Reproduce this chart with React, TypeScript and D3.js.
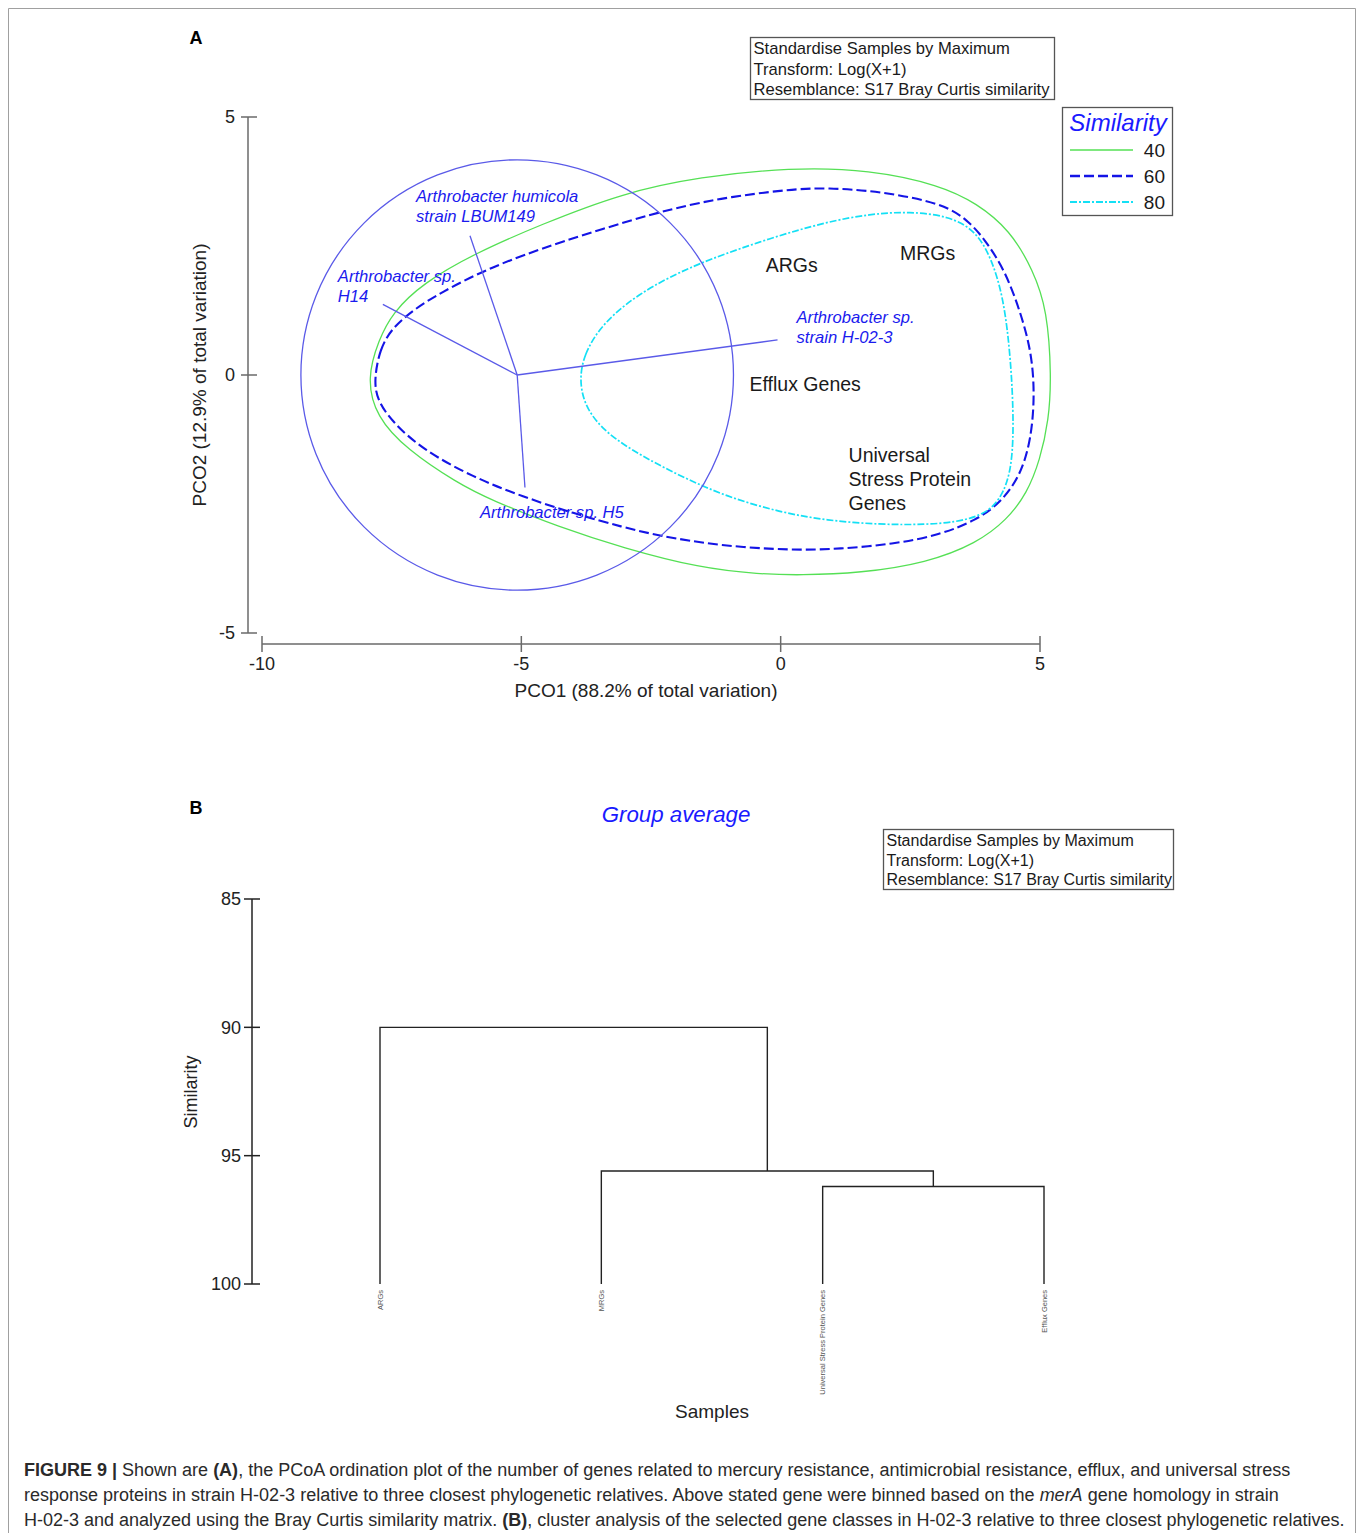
import React, { useRef, useEffect } from "react";
import * as d3 from "d3";

// ---- Panel A: PCO ordination ----
const pco1Ticks = [-10, -5, 0, 5];
const pco2Ticks = [-5, 0, 5];

const sampleLabels = [["ARGs"], ["MRGs"], ["Efflux Genes"], ["Universal", "Stress Protein", "Genes"]];
const samplePCO1 = [-0.29, 2.3, -0.6, 1.31];
const samplePCO2 = [2.12, 2.37, -0.17, -2.01];

const vectorNames = [
  ["Arthrobacter humicola", "strain LBUM149"],
  ["Arthrobacter sp.", "H14"],
  ["Arthrobacter sp.", "strain H-02-3"],
  ["Arthrobacter sp. H5"],
];
const vectorPCO1 = [-0.91, -2.59, 5.02, 0.15];
const vectorPCO2 = [2.7, 1.37, 0.68, -2.18];
const circleCentre = [-5.08, 0];
const circleRadius = 4.17;

const similarityLevels = [40, 60, 80];

// cluster contours at 40 / 60 / 80 % similarity, [PCO1, PCO2]
const contour40 = [
  [-7.98, -0.06], [-7.75, 0.68], [-7.49, 1.2], [-6.9, 1.78], [-5.89, 2.36], [-4.64, 2.91],
  [-3.04, 3.53], [-1.56, 3.84], [0.18, 4.02], [1.72, 3.98], [3.07, 3.68], [3.78, 3.33],
  [4.42, 2.81], [4.87, 2.03], [5.14, 1.26], [5.22, -0.04], [5.17, -0.87], [5.0, -1.65],
  [4.75, -2.29], [4.36, -2.81], [3.78, -3.26], [2.82, -3.64], [1.53, -3.84], [0.37, -3.88],
  [-0.4, -3.86], [-1.56, -3.74], [-3.04, -3.35], [-4.26, -2.95], [-5.6, -2.42], [-6.24, -2.09],
  [-7.2, -1.45], [-7.8, -0.81],
];
const contour60 = [
  [-7.84, -0.1], [-7.73, 0.5], [-7.5, 0.9], [-7.1, 1.25], [-6.57, 1.59], [-5.6, 2.09],
  [-4.31, 2.56], [-2.38, 3.16], [-1.17, 3.43], [0.18, 3.6], [0.89, 3.63], [1.91, 3.56],
  [3.13, 3.33], [3.65, 2.97], [3.98, 2.56], [4.32, 2.03], [4.61, 1.26], [4.83, 0.48],
  [4.9, -0.35], [4.83, -1.26], [4.61, -1.98], [4.23, -2.48], [3.78, -2.81], [3.07, -3.1],
  [2.16, -3.28], [1.14, -3.37], [0.23, -3.4], [-1.17, -3.31], [-2.33, -3.12], [-3.04, -2.95],
  [-4.0, -2.68], [-4.97, -2.36], [-5.93, -1.98], [-6.9, -1.45], [-7.5, -0.9], [-7.78, -0.48],
];
const contour80 = [
  [-3.88, -0.04], [-3.78, 0.4], [-3.55, 0.82], [-3.2, 1.2], [-2.75, 1.55], [-2.15, 1.9],
  [-1.36, 2.25], [-0.21, 2.65], [0.89, 2.97], [1.72, 3.12], [2.49, 3.17], [3.25, 3.08],
  [3.75, 2.8], [4.05, 2.3], [4.3, 1.5], [4.44, 0.29], [4.5, -1.01], [4.44, -1.98],
  [4.15, -2.55], [3.78, -2.75], [3.36, -2.85], [2.82, -2.9], [1.91, -2.9], [0.89, -2.82],
  [-0.01, -2.66], [-1.04, -2.36], [-1.94, -1.96], [-2.9, -1.45], [-3.48, -1.02], [-3.8, -0.55],
];

// ---- Panel B: group-average cluster ----
const similarityTicks = [85, 90, 95, 100];
const leafNames = ["ARGs", "MRGs", "Universal Stress Protein Genes", "Efflux Genes"];
const mergeSimilarity = [96.2, 95.6, 90.0];
// each merge joins a leaf (index >= 0) or an earlier merge (-(k + 1))
const mergeLeft = [2, 1, 0];
const mergeRight = [3, -1, -2];

const infoLines = [
  "Standardise Samples by Maximum",
  "Transform: Log(X+1)",
  "Resemblance: S17 Bray Curtis similarity",
];

const FONT = "'Liberation Sans', Arial, Helvetica, sans-serif";

const App = () => {
  const chartRef = useRef(null);

  useEffect(() => {
    const svg = d3.select(chartRef.current);
    svg.selectAll("*").remove();

    // figure frame
    svg.append("path")
      .attr("d", "M8.5,1540 V8.5 H1355.5 V1540")
      .attr("fill", "none")
      .attr("stroke", "#a0a0a0");

    // ================= Panel A =================
    const x = d3.scaleLinear().domain([-10, 5]).range([262, 1040]);
    const y = d3.scaleLinear().domain([-5, 5]).range([633, 117]);
    const axisCol = "#6a6a6a";

    svg.append("text").attr("x", 196).attr("y", 44).attr("text-anchor", "middle")
      .attr("font-family", FONT).attr("font-weight", "bold").attr("font-size", 18).text("A");

    // y axis
    const gy = svg.append("g");
    gy.append("line").attr("x1", 248).attr("x2", 248).attr("y1", y(5)).attr("y2", y(-5))
      .attr("stroke", axisCol).attr("stroke-width", 1.5);
    pco2Ticks.forEach((t) => {
      gy.append("line").attr("x1", 241).attr("x2", 257).attr("y1", y(t)).attr("y2", y(t))
        .attr("stroke", axisCol).attr("stroke-width", 1.5);
      gy.append("text").attr("x", 235).attr("y", y(t)).attr("dy", "0.35em")
        .attr("text-anchor", "end").attr("font-family", FONT).attr("font-size", 18)
        .attr("fill", "#222").text(t);
    });
    svg.append("text")
      .attr("transform", `translate(206,${y(0)}) rotate(-90)`)
      .attr("text-anchor", "middle").attr("font-family", FONT).attr("font-size", 19)
      .attr("fill", "#222").text("PCO2 (12.9% of total variation)");

    // x axis
    const gx = svg.append("g");
    gx.append("line").attr("x1", x(-10)).attr("x2", x(5)).attr("y1", 644).attr("y2", 644)
      .attr("stroke", axisCol).attr("stroke-width", 1.5);
    pco1Ticks.forEach((t) => {
      gx.append("line").attr("x1", x(t)).attr("x2", x(t)).attr("y1", 636).attr("y2", 652)
        .attr("stroke", axisCol).attr("stroke-width", 1.5);
      gx.append("text").attr("x", x(t)).attr("y", 664).attr("dy", "0.35em")
        .attr("text-anchor", "middle").attr("font-family", FONT).attr("font-size", 18)
        .attr("fill", "#222").text(t);
    });
    svg.append("text").attr("x", 646).attr("y", 697).attr("text-anchor", "middle")
      .attr("font-family", FONT).attr("font-size", 19).attr("fill", "#222")
      .text("PCO1 (88.2% of total variation)");

    // contours
    const contourStyle = {
      40: { color: "#55e055", width: 1.3, dash: null },
      60: { color: "#1414e6", width: 2.1, dash: "10,4" },
      80: { color: "#14e0f5", width: 1.7, dash: "7,2,2,2" },
    };
    const contours = { 40: contour40, 60: contour60, 80: contour80 };
    const line = d3.line()
      .x((d) => x(d[0]))
      .y((d) => y(d[1]))
      .curve(d3.curveBasisClosed);
    similarityLevels.forEach((lvl) => {
      const s = contourStyle[lvl];
      svg.append("path").attr("d", line(contours[lvl])).attr("fill", "none")
        .attr("stroke", s.color).attr("stroke-width", s.width)
        .attr("stroke-dasharray", s.dash);
    });

    // vector overlay circle + vectors
    const vecCol = "#5a5ae8";
    const cx = x(circleCentre[0]);
    const cy = y(circleCentre[1]);
    svg.append("ellipse").attr("cx", cx).attr("cy", cy)
      .attr("rx", x(circleCentre[0] + circleRadius) - cx)
      .attr("ry", cy - y(circleCentre[1] + circleRadius))
      .attr("fill", "none").attr("stroke", vecCol).attr("stroke-width", 1.3);

    const labelOffsets = [[-54, -39], [-45, -28], [19, -23], [-45, 25]];
    vectorNames.forEach((name, i) => {
      const ex = x(circleCentre[0] + vectorPCO1[i]);
      const ey = y(circleCentre[1] + vectorPCO2[i]);
      svg.append("line").attr("x1", cx).attr("y1", cy).attr("x2", ex).attr("y2", ey)
        .attr("stroke", vecCol).attr("stroke-width", 1.3);
      const t = svg.append("text").attr("font-family", FONT).attr("font-style", "italic")
        .attr("font-size", 16.6).attr("fill", "#1a1aee");
      name.forEach((ln, k) => {
        t.append("tspan").attr("x", ex + labelOffsets[i][0])
          .attr("y", ey + labelOffsets[i][1] + k * 20).attr("dy", "0.35em").text(ln);
      });
    });

    // sample labels
    sampleLabels.forEach((lines, i) => {
      const t = svg.append("text").attr("font-family", FONT).attr("font-size", 19.5)
        .attr("fill", "#1a1a1a");
      lines.forEach((ln, k) => {
        t.append("tspan").attr("x", x(samplePCO1[i]))
          .attr("y", y(samplePCO2[i]) + (k - (lines.length - 1) / 2) * 24)
          .attr("dy", "0.35em").text(ln);
      });
    });

    // info box
    const infoBox = (bx, by, bw, bh, fs, lh) => {
      svg.append("rect").attr("x", bx).attr("y", by).attr("width", bw).attr("height", bh)
        .attr("fill", "#fff").attr("stroke", "#555").attr("stroke-width", 1.3);
      infoLines.forEach((ln, k) => {
        svg.append("text").attr("x", bx + 3).attr("y", by + 11 + k * lh).attr("dy", "0.35em")
          .attr("font-family", FONT).attr("font-size", fs).attr("fill", "#1a1a1a").text(ln);
      });
    };
    infoBox(750.5, 37.5, 304, 62, 16.6, 20.5);

    // legend
    svg.append("rect").attr("x", 1062.5).attr("y", 107.5).attr("width", 110).attr("height", 108)
      .attr("fill", "#fff").attr("stroke", "#555").attr("stroke-width", 1.3);
    svg.append("text").attr("x", 1118).attr("y", 123).attr("dy", "0.35em")
      .attr("text-anchor", "middle").attr("font-family", FONT).attr("font-style", "italic")
      .attr("font-size", 24).attr("fill", "#1a1aff").text("Similarity");
    similarityLevels.forEach((lvl, k) => {
      const s = contourStyle[lvl];
      const ly = 150 + k * 26;
      svg.append("line").attr("x1", 1070).attr("x2", 1133).attr("y1", ly).attr("y2", ly)
        .attr("stroke", s.color).attr("stroke-width", s.width + 0.3)
        .attr("stroke-dasharray", s.dash);
      svg.append("text").attr("x", 1165).attr("y", ly).attr("dy", "0.35em")
        .attr("text-anchor", "end").attr("font-family", FONT).attr("font-size", 19)
        .attr("fill", "#1a1a1a").text(lvl);
    });

    // ================= Panel B =================
    svg.append("text").attr("x", 196).attr("y", 814).attr("text-anchor", "middle")
      .attr("font-family", FONT).attr("font-weight", "bold").attr("font-size", 18).text("B");
    svg.append("text").attr("x", 676).attr("y", 814).attr("dy", "0.35em")
      .attr("text-anchor", "middle").attr("font-family", FONT).attr("font-style", "italic")
      .attr("font-size", 22.3).attr("fill", "#1a1aff").text("Group average");
    infoBox(883.5, 829.5, 290, 60, 16, 19.5);

    const yB = d3.scaleLinear().domain([85, 100]).range([899, 1284]);
    const xB = d3.scalePoint().domain(leafNames).range([380, 1044]);

    const gb = svg.append("g");
    gb.append("line").attr("x1", 252).attr("x2", 252).attr("y1", yB(85)).attr("y2", yB(100))
      .attr("stroke", "#222").attr("stroke-width", 1.5);
    similarityTicks.forEach((t) => {
      gb.append("line").attr("x1", 244).attr("x2", 260).attr("y1", yB(t)).attr("y2", yB(t))
        .attr("stroke", "#222").attr("stroke-width", 1.5);
      gb.append("text").attr("x", 241).attr("y", yB(t)).attr("dy", "0.35em")
        .attr("text-anchor", "end").attr("font-family", FONT).attr("font-size", 18)
        .attr("fill", "#222").text(t);
    });
    svg.append("text")
      .attr("transform", `translate(197,1092) rotate(-90)`)
      .attr("text-anchor", "middle").attr("font-family", FONT).attr("font-size", 18)
      .attr("fill", "#222").text("Similarity");

    // dendrogram
    const nodes = [];
    const pos = (ref) =>
      ref >= 0 ? { x: xB(leafNames[ref]), y: yB(100) } : nodes[-ref - 1];
    mergeSimilarity.forEach((sim, k) => {
      const a = pos(mergeLeft[k]);
      const b = pos(mergeRight[k]);
      const ny = yB(sim);
      gb.append("path")
        .attr("d", `M${a.x},${a.y} V${ny} H${b.x} V${b.y}`)
        .attr("fill", "none").attr("stroke", "#222").attr("stroke-width", 1.4);
      nodes.push({ x: (a.x + b.x) / 2, y: ny });
    });

    leafNames.forEach((n) => {
      svg.append("text")
        .attr("transform", `translate(${xB(n)},1290) rotate(-90)`)
        .attr("dy", "0.35em").attr("text-anchor", "end")
        .attr("font-family", FONT).attr("font-size", 7.5).attr("fill", "#555").text(n);
    });
    svg.append("text").attr("x", 712).attr("y", 1411).attr("dy", "0.35em")
      .attr("text-anchor", "middle").attr("font-family", FONT).attr("font-size", 19)
      .attr("fill", "#222").text("Samples");

    // ================= Caption =================
    const cap = svg.append("text").attr("font-family", FONT).attr("font-size", 18)
      .attr("fill", "#2a2a2a");
    const l1 = cap.append("tspan").attr("x", 24).attr("y", 1476);
    l1.append("tspan").attr("font-weight", "bold").text("FIGURE 9 | ");
    l1.append("tspan").text("Shown are ");
    l1.append("tspan").attr("font-weight", "bold").text("(A)");
    l1.append("tspan").text(", the PCoA ordination plot of the number of genes related to mercury resistance, antimicrobial resistance, efflux, and universal stress");
    const l2 = cap.append("tspan").attr("x", 24).attr("y", 1501);
    l2.append("tspan").text("response proteins in strain H-02-3 relative to three closest phylogenetic relatives. Above stated gene were binned based on the ");
    l2.append("tspan").attr("font-style", "italic").text("merA");
    l2.append("tspan").text(" gene homology in strain");
    const l3 = cap.append("tspan").attr("x", 24).attr("y", 1526);
    l3.append("tspan").text("H-02-3 and analyzed using the Bray Curtis similarity matrix. ");
    l3.append("tspan").attr("font-weight", "bold").text("(B)");
    l3.append("tspan").text(", cluster analysis of the selected gene classes in H-02-3 relative to three closest phylogenetic relatives.");
  }, []);

  return (
    <svg
      ref={chartRef}
      width={1360}
      height={1533}
      style={{ position: "absolute", left: 0, top: 0, background: "#fff" }}
    ></svg>
  );
};

export default App;
